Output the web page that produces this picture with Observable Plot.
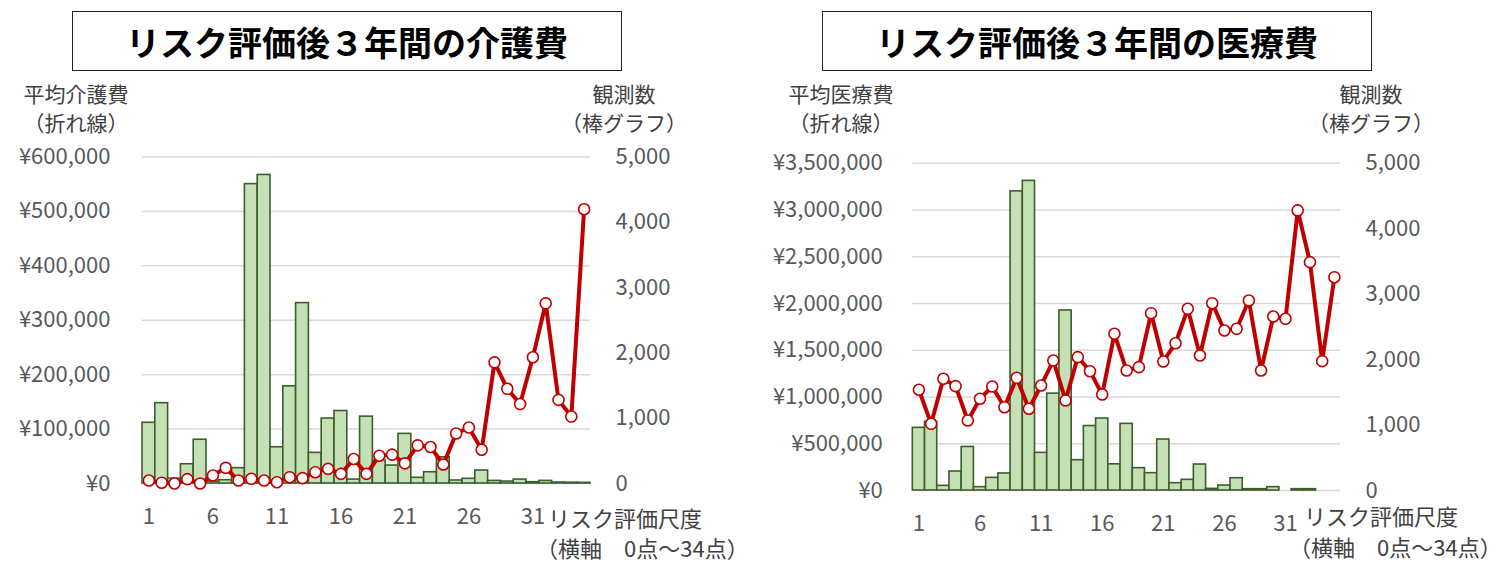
<!DOCTYPE html>
<html>
<head>
<meta charset="utf-8">
<script src="https://cdn.jsdelivr.net/npm/d3@7"></script>
<script src="https://cdn.jsdelivr.net/npm/@observablehq/plot@0.6"></script>
<style>
  html, body { margin: 0; padding: 0; background: #fff; }
  #root { position: relative; width: 1499px; height: 564px; overflow: hidden; background: #fff;
          font-family: "Noto Sans CJK JP", "Noto Sans", sans-serif; }
  .panel { position: absolute; top: 0; }
  .title { position: absolute; top: 11px; width: 548px; height: 58px; border: 1.5px solid #222;
           display: flex; align-items: center; justify-content: center;
           font-size: 34px; font-weight: bold; color: #000; }
  .lab { position: absolute; font-size: 21px; line-height: 22px; color: #404040; text-align: center;
         white-space: nowrap; transform: translateX(-50%); }
  .xlab { position: absolute; font-size: 22px; line-height: 23px; color: #404040; white-space: nowrap; }
</style>
</head>
<body>
<div id="root"></div>
<script>
// ---- data ----
const scores = [1,2,3,4,5,6,7,8,9,10,11,12,13,14,15,16,17,18,19,20,21,22,23,24,25,26,27,28,29,30,31,32,33,34,35];
const xTickLabels = [1, 6, 11, 16, 21, 26, 31];

// Left: care costs
const careCount = [930,1230,75,295,670,30,50,235,4585,4725,555,1488,2763,469,995,1110,60,1024,352,275,760,87,173,402,46,72,199,40,30,60,20,40,15,12,10];
const careCost = [5500,1500,0,8000,0,14700,28800,5500,8600,5500,2400,11600,9800,20800,26900,17700,45000,17700,51000,53000,37000,70000,67000,35000,92000,103000,62000,222600,174000,146000,232000,331000,153600,123000,504000];
const careYenTicks = [0,100000,200000,300000,400000,500000,600000];

// Right: medical costs
const medCount = [957,1050,71,290,665,51,193,260,4570,4730,575,1480,2750,463,985,1100,400,1018,341,265,779,112,163,397,25,76,188,20,20,51,0,20,20,0,0];
const medCost = [1077000,713000,1195000,1116000,749000,981000,1112000,891000,1205000,874000,1123000,1390000,963000,1426000,1276000,1027000,1676000,1283000,1319000,1896000,1380000,1575000,1943000,1444000,2003000,1711000,1729000,2032000,1283000,1861000,1836000,2995000,2442000,1383000,2281000];
const medYenTicks = [0,500000,1000000,1500000,2000000,2500000,3000000,3500000];

const countTicks = [0,1000,2000,3000,4000,5000];

const titles = ["リスク評価後３年間の介護費", "リスク評価後３年間の医療費"];
const leftAxisTitles = [["平均介護費", "（折れ線）"], ["平均医療費", "（折れ線）"]];
const rightAxisTitle = ["観測数", "（棒グラフ）"];
const xAxisTitle = ["リスク評価尺度", "（横軸　0点～34点）"];

// ---- drawing ----
const root = document.getElementById("root");
const FONT = '"Noto Sans CJK JP", "Noto Sans", sans-serif';
const yen = d => "¥" + d3.format(",")(d);

function panel(cfg) {
  const rows = scores.map((s, i) => ({score: s, count: cfg.counts[i], cost: cfg.costs[i]}));
  const yMax = cfg.yenTicks[cfg.yenTicks.length - 1];
  const factor = yMax / countTicks[countTicks.length - 1];
  const chart = Plot.plot({
    width: cfg.width, height: 564,
    marginLeft: cfg.mL, marginRight: cfg.mR, marginTop: cfg.mT, marginBottom: cfg.mB,
    x: {domain: [0.5, scores.length + 0.5]},
    y: {domain: [0, yMax]},
    style: {fontFamily: FONT, fontSize: "22px", color: "#595959", background: "transparent", overflow: "visible"},
    marks: [
      Plot.gridY(cfg.yenTicks, {stroke: "#d9d9d9", strokeOpacity: 1, strokeWidth: 1.5}),
      Plot.rectY(rows, {x1: d => d.score - 0.5, x2: d => d.score + 0.5, y: d => d.count * factor,
                        fill: "#c5e0b4", stroke: "#3b5e2b", strokeWidth: 1.6}),
      Plot.lineY(rows, {x: "score", y: "cost", stroke: "#c00000", strokeWidth: 4, strokeLinejoin: "round"}),
      Plot.dot(rows, {x: "score", y: "cost", r: 5.5, fill: "white", stroke: "#c00000", strokeWidth: 1.6}),
      Plot.axisY(cfg.yenTicks, {anchor: "left", tickFormat: yen, tickSize: 0, tickPadding: cfg.padL, label: null, fill: "#595959"}),
      Plot.axisY(countTicks.map(v => v * factor), {anchor: "right", tickFormat: d => d3.format(",")(Math.round(d / factor)),
                  tickSize: 0, tickPadding: cfg.padR, label: null, fill: "#595959"}),
      Plot.axisX(xTickLabels, {anchor: "bottom", tickSize: 0, tickPadding: 25, label: null, fill: "#595959"})
    ]
  });
  chart.classList.add("panel");
  chart.style.left = cfg.left + "px";
  root.appendChild(chart);
}

panel({left: 0, width: 750, mL: 142, mR: 160, mT: 156.5, mB: 81, padL: 32, padR: 25,
       counts: careCount, costs: careCost, yenTicks: careYenTicks});
panel({left: 750, width: 749, mL: 162.3, mR: 159, mT: 162.7, mB: 74, padL: 30, padR: 25,
       counts: medCount, costs: medCost, yenTicks: medYenTicks});

function addDiv(cls, text, left, top) {
  const d = document.createElement("div");
  d.className = cls;
  d.textContent = text;
  d.style.left = left + "px";
  d.style.top = top + "px";
  root.appendChild(d);
  return d;
}

// titles
addDiv("title", titles[0], 72, 11);
addDiv("title", titles[1], 822, 11);
// axis titles (two lines each)
[[leftAxisTitles[0], 76], [rightAxisTitle, 624], [leftAxisTitles[1], 841], [rightAxisTitle, 1371]].forEach(([lines, cx]) => {
  addDiv("lab", lines[0], cx, 82);
  addDiv("lab", lines[1], cx, 111);
});
// x axis titles
addDiv("xlab", xAxisTitle[0], 548, 506);
addDiv("xlab", xAxisTitle[1], 536, 536);
addDiv("xlab", xAxisTitle[0], 1304, 504);
addDiv("xlab", xAxisTitle[1], 1289, 535);
</script>
</body>
</html>
